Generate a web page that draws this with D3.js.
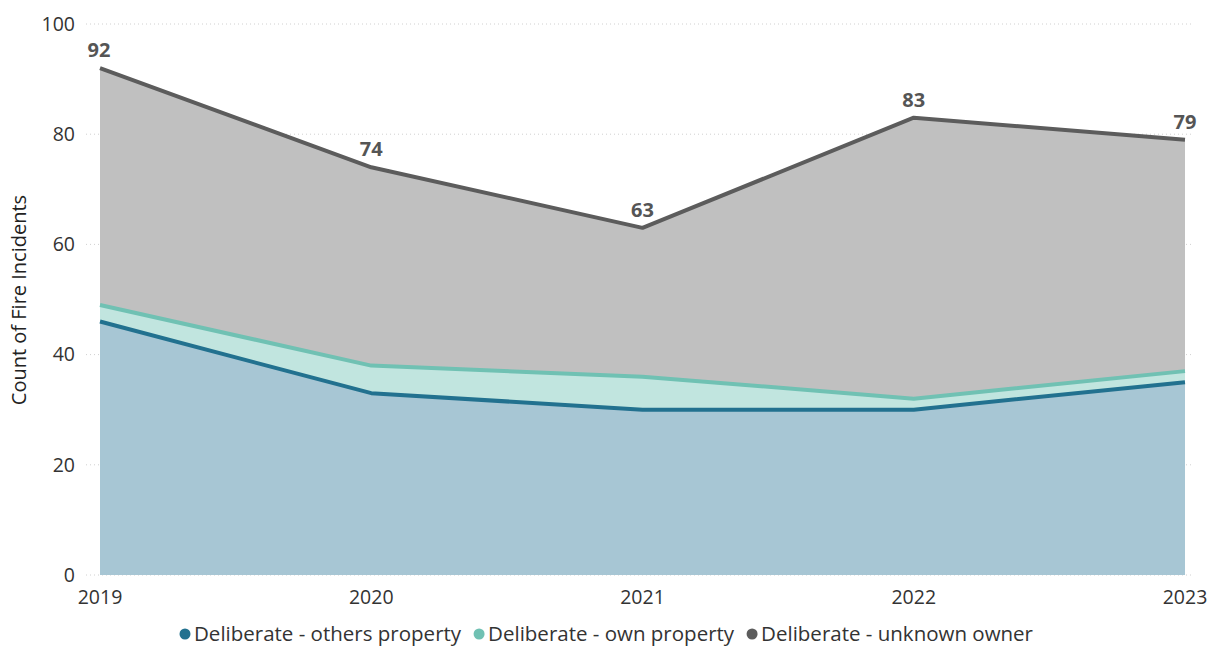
<!DOCTYPE html>
<html><head><meta charset="utf-8">
<script src="https://cdn.jsdelivr.net/npm/d3@7"></script>
<style>body{margin:0;background:#fff;}svg{display:block;}</style>
</head><body>
<svg id="c" width="1218" height="648"></svg>
<script>
const years = ["2019","2020","2021","2022","2023"];
const othersProperty = [46, 33, 30, 30, 35];
const ownProperty = [3, 5, 6, 2, 2];
const unknownOwner = [43, 36, 27, 51, 42];
const seriesNames = ["Deliberate - others property","Deliberate - own property","Deliberate - unknown owner"];
const yTicks = [0, 20, 40, 60, 80, 100];
const lineColors = ["#22718f", "#70c1b3", "#5c5c5c"];
const fillColors = ["#a7c6d4", "#c1e5df", "#c0c0c0"];

const svg = d3.select("#c");
const x = d3.scalePoint().domain(years).range([100, 1185]);
const y = d3.scaleLinear().domain([0, 100]).range([575, 24]);

const rows = years.map((yr, i) => ({year: yr, s0: othersProperty[i], s1: ownProperty[i], s2: unknownOwner[i]}));
const stacked = d3.stack().keys(["s0","s1","s2"])(rows);

// gridlines
svg.append("g").selectAll("line").data(yTicks).join("line")
  .attr("x1", 86).attr("x2", 1192)
  .attr("y1", d => y(d)).attr("y2", d => y(d))
  .attr("stroke", "#d0d0d0").attr("stroke-width", 1).attr("stroke-dasharray", "1,3");

// y tick labels
svg.append("g").selectAll("text").data(yTicks).join("text")
  .attr("x", 75).attr("y", d => y(d)).attr("dy", "0.35em")
  .attr("text-anchor", "end").attr("font-family", "'Open Sans', sans-serif")
  .attr("font-size", 19.5).attr("fill", "#333").text(d => d);

// x tick labels
svg.append("g").selectAll("text").data(years).join("text")
  .attr("x", d => x(d)).attr("y", 604)
  .attr("text-anchor", "middle").attr("font-family", "'Open Sans', sans-serif")
  .attr("font-size", 19.5).attr("fill", "#333").text(d => d);

// y title
svg.append("text").attr("transform", "translate(26,300) rotate(-90)")
  .attr("text-anchor", "middle").attr("font-family", "'Open Sans', sans-serif")
  .attr("font-size", 20).attr("fill", "#222").text("Count of Fire Incidents");

const area = d3.area().x(d => x(d.data.year)).y0(d => y(d[0])).y1(d => y(d[1]));
const line = d3.line().x(d => x(d.data.year)).y(d => y(d[1]));

svg.append("g").selectAll("path").data(stacked).join("path")
  .attr("d", area).attr("fill", (d, i) => fillColors[i]);
svg.append("g").selectAll("path").data(stacked).join("path")
  .attr("d", line).attr("fill", "none").attr("stroke", (d, i) => lineColors[i])
  .attr("stroke-width", 4).attr("stroke-linejoin", "round");

// total labels
const topLayer = stacked[2];
svg.append("g").selectAll("text").data(topLayer).join("text")
  .attr("x", (d, i) => x(d.data.year) + (i === 0 ? -1 : 0))
  .attr("y", d => y(d[1]) - 11)
  .attr("text-anchor", "middle").attr("font-family", "'Open Sans', sans-serif")
  .attr("font-weight", "bold").attr("font-size", 20).attr("fill", "#555")
  .text(d => d[1]);

// legend
const lg = svg.append("g");
let lx = 0;
seriesNames.forEach((n, i) => {
  const g = lg.append("g").attr("transform", `translate(${lx},0)`);
  g.append("circle").attr("cx", 6).attr("cy", 0).attr("r", 5.5).attr("fill", lineColors[i]);
  const t = g.append("text").attr("x", 15).attr("y", 0).attr("dy", "0.35em")
    .attr("font-family", "'Open Sans', sans-serif").attr("font-size", 20.5).attr("fill", "#333").text(n);
  lx += 15 + t.node().getComputedTextLength() + 12;
});
const totalW = lx - 12;
lg.attr("transform", `translate(${606 - totalW/2},634)`);
</script>
</body></html>
